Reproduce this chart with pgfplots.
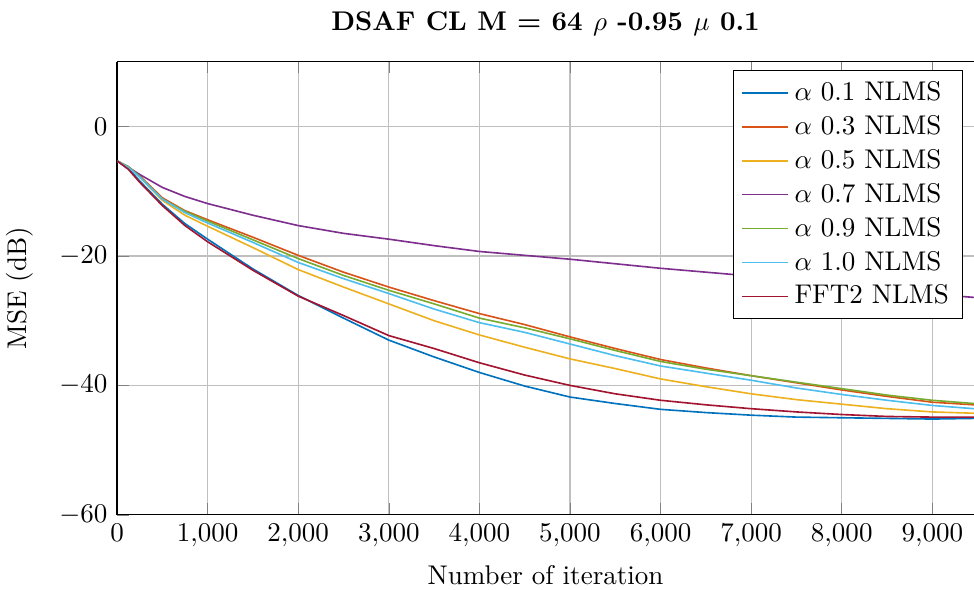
\documentclass[border=0pt]{standalone}
\usepackage{pgfplots}
\pgfplotsset{compat=1.18}
\usepackage{pgfplotstable}
\definecolor{cA}{RGB}{0,114,189}
\definecolor{cB}{RGB}{217,83,25}
\definecolor{cC}{RGB}{237,177,32}
\definecolor{cD}{RGB}{126,47,142}
\definecolor{cE}{RGB}{119,172,48}
\definecolor{cF}{RGB}{77,190,238}
\definecolor{cG}{RGB}{162,20,47}

% columns: iteration, alpha 0.1, 0.3, 0.5, 0.7, 0.9, 1.0, FFT2
\pgfplotstableread{
x    a01   a03   a05   a07   a09   a10   fft
0    -5.3  -5.3  -5.3  -5.3  -5.3  -5.3  -5.3
125  -6.5  -6.2  -6.3  -6.3  -6.2  -6.3  -6.6
250  -8.4  -7.6  -7.8  -7.4  -7.7  -7.8  -8.6
500  -12.0 -11.0 -11.4 -9.4  -11.2 -11.2 -12.2
750  -15.0 -13.0 -13.7 -10.8 -13.1 -13.3 -15.3
1000 -17.4 -14.4 -15.4 -11.9 -14.6 -14.9 -17.8
1500 -22.0 -17.1 -18.7 -13.7 -17.5 -17.9 -22.2
2000 -26.1 -19.9 -22.1 -15.3 -20.4 -21.0 -26.2
2500 -29.6 -22.5 -24.8 -16.5 -23.0 -23.5 -29.2
3000 -33.0 -24.8 -27.4 -17.4 -25.3 -25.8 -32.3
3500 -35.6 -26.9 -30.0 -18.4 -27.4 -28.2 -34.3
4000 -38.0 -28.9 -32.2 -19.3 -29.6 -30.3 -36.5
4500 -40.1 -30.6 -34.1 -19.9 -31.1 -31.8 -38.4
5000 -41.8 -32.5 -35.9 -20.5 -32.8 -33.6 -40.0
5500 -42.8 -34.3 -37.4 -21.2 -34.6 -35.4 -41.3
6000 -43.7 -36.0 -39.0 -21.9 -36.3 -37.0 -42.3
6500 -44.2 -37.3 -40.2 -22.5 -37.5 -38.1 -43.0
7000 -44.6 -38.5 -41.3 -23.1 -38.5 -39.2 -43.6
7500 -44.9 -39.6 -42.2 -23.8 -39.5 -40.4 -44.1
8000 -45.0 -40.7 -42.9 -24.5 -40.5 -41.4 -44.5
8500 -45.1 -41.7 -43.6 -25.2 -41.5 -42.3 -44.8
9000 -45.2 -42.6 -44.1 -25.9 -42.3 -43.1 -44.9
9460 -45.1 -43.0 -44.3 -26.4 -42.8 -43.6 -44.9
}\mse

\begin{document}
\begin{tikzpicture}
\begin{axis}[scale only axis, width=317.1pt, height=167.6pt,
  xmin=0, xmax=9460, ymin=-60, ymax=10,
  xtick={0,1000,...,9000}, ytick={-60,-40,-20,0}, scaled x ticks=false,
  axis y line*=left,
  grid=major,
  title={\textbf{DSAF CL M = 64 $\rho$ -0.95 $\mu$ 0.1}},
  xlabel={Number of iteration}, ylabel={MSE (dB)}, ylabel shift=3pt,
  legend style={at={(0.987,0.982)}, anchor=north east, legend cell align=left},
  every axis plot/.append style={line width=0.6pt}]
\addplot[cA] table[x=x,y=a01] {\mse};
\addplot[cB] table[x=x,y=a03] {\mse};
\addplot[cC] table[x=x,y=a05] {\mse};
\addplot[cD] table[x=x,y=a07] {\mse};
\addplot[cE] table[x=x,y=a09] {\mse};
\addplot[cF] table[x=x,y=a10] {\mse};
\addplot[cG] table[x=x,y=fft] {\mse};
\legend{$\alpha$ 0.1 NLMS, $\alpha$ 0.3 NLMS, $\alpha$ 0.5 NLMS, $\alpha$ 0.7 NLMS, $\alpha$ 0.9 NLMS, $\alpha$ 1.0 NLMS, FFT2 NLMS}
\coordinate (sw) at (rel axis cs:0,0);
\coordinate (ne) at (rel axis cs:1,1);
\end{axis}
\pgfresetboundingbox
\path[use as bounding box] ([shift={(-43.3pt,-27.75pt)}]sw) rectangle ([shift={(0pt,22.9pt)}]ne);
\end{tikzpicture}
\end{document}
